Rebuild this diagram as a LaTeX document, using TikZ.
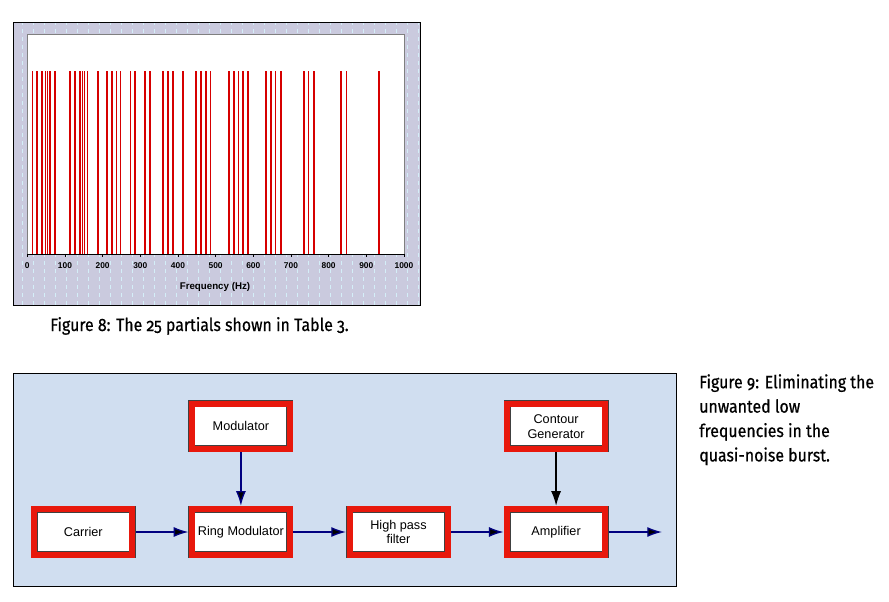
\documentclass[tikz,border=0pt]{standalone}
\usepackage{fontspec}
\setmainfont{Liberation Sans}
\newfontfamily\capfont[Numbers=OldStyle,FakeStretch=0.89,FakeBold=0.6]{Fira Sans}
\usetikzlibrary{arrows.meta,positioning}

\definecolor{topbg}{RGB}{202,202,222}
\definecolor{gridc}{RGB}{212,238,248}
\definecolor{lowbg}{RGB}{208,222,240}
\definecolor{barred}{RGB}{214,0,0}
\definecolor{framered}{RGB}{232,24,12}
\definecolor{navy}{RGB}{0,0,128}

\begin{document}
\begin{tikzpicture}[x=0.75pt,y=-0.75pt,>={Latex[length=11pt,width=7.5pt]}]
        \tikzset{box/.style={draw=black!75, line width=0.4pt, double=framered, double distance=4.5pt, fill=white,
                 align=center, minimum width=73.5pt, minimum height=34pt, outer sep=2.65pt,
                 font=\fontsize{9.5}{11.2}\selectfont},
        bar/.style={barred, line width=1.2pt},
        ticklabel/.style={font=\bfseries\fontsize{6.3}{7}\selectfont, inner sep=0pt},
        caption/.style={font=\capfont\fontsize{13.4}{18.3}\selectfont, inner sep=0pt, align=left},
        }
        \useasboundingbox (0,0) rectangle (889,602);

%% figure 8: spectrum
        \fill[topbg] (13,22) rectangle (420,305);
        \draw[gridc, dashed, line width=0.5pt, step=11] (13,22) grid (420,305);
        \draw[black, line width=0.6pt] (13,22) rectangle (420,305);
        \fill[white] (27,34) rectangle (404,254);
        \draw[black!50, line width=0.6pt] (27,254) -- (27,34) -- (404,34) -- (404,254);
        \foreach \f in {14,26,39,48,54,60,74,113,126,140,147,152,160,187,212,225,237,247,274,286,
                        313,325,360,373,386,413,448,461,474,486,535,548,561,573,586,634,647,659,673,
                        734,746,761,833,847,934}
            \draw[bar] ({27.3+0.3767*\f},254) -- ({27.3+0.3767*\f},71);
        \draw[black, line width=0.7pt] (27,254) -- (404,254);
        \foreach \f in {0,100,...,1000}{
            \draw[black, line width=0.6pt] ({27.3+0.3767*\f},254) -- ({27.3+0.3767*\f},257);
            \node[ticklabel] at ({27.3+0.3767*\f},265.5) {\f};
        }
        \node[font=\bfseries\fontsize{7.3}{9}\selectfont, inner sep=0pt] (xlabel) at (215,287) {Frequency (Hz)};
        \node[caption, anchor=base west] (cap8) at (50,331) {Figure 8: The 25 partials shown in Table 3.};

%% figure 9: block diagram
        \fill[lowbg] (13,373) rectangle (676,586);
        \draw[black, line width=0.6pt] (13,373) rectangle (676,586);
        \node [box] (carrier) at (83.3,532) {Carrier};
        \node [box, right =39.4pt of carrier] (ringmod) {Ring Modulator};
        \node [box, above =40pt of ringmod] (modulator) {Modulator};
        \node [box, right =39.4pt of ringmod] (highpass) {High pass\\filter};
        \node [box, right =39.4pt of highpass] (amp) {Amplifier};
        \node [box, above =40pt of amp] (contour) {Contour\\Generator};
        \coordinate [right =40pt of amp] (out);
        \node[caption, anchor=north west] (cap9) at (699,374) {Figure 9: Eliminating the\\unwanted low\\frequencies in the\\quasi-noise burst.};

%% paths
        \path[draw=navy,line width=1pt,->] (carrier) edge (ringmod)
                    (modulator) edge (ringmod)
                    (ringmod) edge (highpass)
                    (highpass) edge (amp)
                    (amp) edge (out)
                    ;
        \path[draw=black,line width=1pt,->] (contour) edge (amp);
\end{tikzpicture}
\end{document}
